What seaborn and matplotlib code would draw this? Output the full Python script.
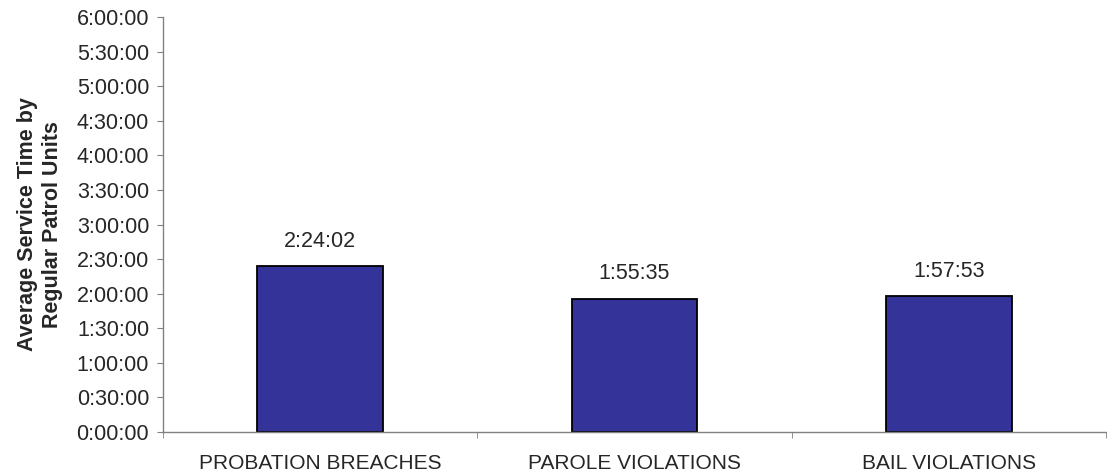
import matplotlib
matplotlib.use("Agg")
import numpy as np
import pandas as pd
import seaborn as sns
import matplotlib.pyplot as plt
from matplotlib.ticker import FuncFormatter, MultipleLocator, FixedLocator

categories = ["PROBATION BREACHES", "PAROLE VIOLATIONS", "BAIL VIOLATIONS"]
service_times = ["2:24:02", "1:55:35", "1:57:53"]


def to_hours(s):
    h, m, sec = [int(p) for p in s.split(":")]
    return h + m / 60 + sec / 3600


df = pd.DataFrame({"cat": categories, "hours": [to_hours(t) for t in service_times]})

sns.set_style("white")
plt.rcParams["font.family"] = ["Liberation Sans", "DejaVu Sans"]

fig = plt.figure(figsize=(11.07, 4.74), dpi=100)
ax = fig.add_axes([163 / 1107, 42 / 474, (1106 - 163) / 1107, (432 - 17) / 474])

sns.barplot(data=df, x="cat", y="hours", color="#333399", width=0.4,
            edgecolor="black", linewidth=1.3, saturation=1, ax=ax)

ax.set_xlim(-0.5, 2.5)
ax.set_ylim(0, 6)
ax.yaxis.set_major_locator(MultipleLocator(0.5))


def fmt(v, pos):
    total = int(round(v * 3600))
    return "%d:%02d:%02d" % (total // 3600, (total % 3600) // 60, total % 60)


ax.yaxis.set_major_formatter(FuncFormatter(fmt))

for i, t in enumerate(service_times):
    ax.annotate(t, (i, df["hours"][i]), xytext=(0, 14), textcoords="offset points",
                ha="center", va="baseline", fontsize=15.5)

ax.set_xlabel("")
ax.set_ylabel("Average Service Time by\nRegular Patrol Units", fontsize=15.5,
              fontweight="bold", labelpad=10)

for s in ["top", "right"]:
    ax.spines[s].set_visible(False)
for s in ["left", "bottom"]:
    ax.spines[s].set_color("#808080")
    ax.spines[s].set_linewidth(1.0)

ax.tick_params(axis="y", which="major", length=4, color="#808080", left=True,
               labelsize=15.5, pad=6)
ax.xaxis.set_minor_locator(FixedLocator([-0.5, 0.5, 1.5, 2.5]))
ax.tick_params(axis="x", which="major", length=0, labelsize=15, pad=16)
ax.tick_params(axis="x", which="minor", length=4, color="#808080", bottom=True)

fig.savefig("out.png", dpi=100)
